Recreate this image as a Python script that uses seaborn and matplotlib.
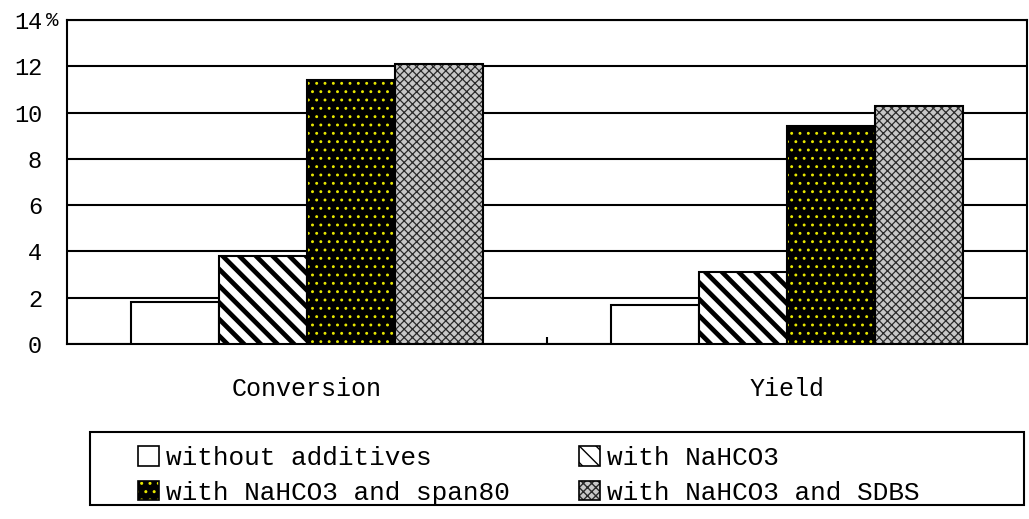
import matplotlib
matplotlib.use("Agg")
import matplotlib.pyplot as plt
import seaborn as sns
import pandas as pd
from matplotlib.patches import Patch, Rectangle
from matplotlib.legend_handler import HandlerTuple
from matplotlib.ticker import FixedLocator

categories = ["Conversion", "Yield"]
series = ["without additives", "with NaHCO3", "with NaHCO3 and span80", "with NaHCO3 and SDBS"]
without_additives = [1.8, 1.7]
with_nahco3 = [3.8, 3.1]
with_span80 = [11.4, 9.4]
with_sdbs = [12.1, 10.3]
yticks = [0, 2, 4, 6, 8, 10, 12, 14]
ytick_labels = ["0", "2", "4", "6", "8", "10", "12", "14"]

values = [without_additives, with_nahco3, with_span80, with_sdbs]
rows = []
for s, vals in zip(series, values):
    for c, v in zip(categories, vals):
        rows.append({"category": c, "series": s, "value": v})
df = pd.DataFrame(rows)

sns.set_style("white")
plt.rcParams["font.family"] = ["Liberation Mono", "DejaVu Sans Mono"]
plt.rcParams["text.color"] = "black"
plt.rcParams["xtick.color"] = "black"
plt.rcParams["ytick.color"] = "black"
plt.rcParams["xtick.labelcolor"] = "black"
plt.rcParams["ytick.labelcolor"] = "black"

# styles: (facecolor, hatch, hatchcolor, hatch linewidth)
styles = [
    ("white", None, "black", 1.0),
    ("white", "\\\\", "black", 3.4),
    ("black", "..", "#e8e800", 0.9),
    ("#c8c8c8", "xxxx", "#2a2a2a", 0.9),
]

fig = plt.figure(figsize=(10.29, 5.19), dpi=100)
ax = fig.add_axes([67 / 1029, 1 - 344 / 519, 960 / 1029, 324 / 519])

sns.barplot(data=df, x="category", y="value", hue="series", hue_order=series,
            order=categories, width=0.733, gap=0, palette=["white"] * 4,
            edgecolor="black", linewidth=1.5, legend=False, ax=ax, zorder=3)

bars_per_series = len(categories)
patches = [p for p in ax.patches]
has_hlw = hasattr(patches[0], "set_hatch_linewidth")
for i, p in enumerate(patches):
    si = i // bars_per_series
    fc, hatch, hc, hlw = styles[si]
    p.set_facecolor(fc)
    if hatch:
        p.set_hatch(hatch)
        p.set_edgecolor(hc)
        p.set_linewidth(0)
        if has_hlw:
            p.set_hatch_linewidth(hlw)
        ax.add_patch(Rectangle(p.get_xy(), p.get_width(), p.get_height(),
                               fill=False, edgecolor="black", linewidth=1.5, zorder=4))
if not has_hlw:
    plt.rcParams["hatch.linewidth"] = 1.8

ax.set_xlim(-0.5, 1.5)
ax.set_ylim(0, 14)
ax.set_yticks(yticks)
ax.set_yticklabels(ytick_labels)
ax.yaxis.grid(True, color="black", linewidth=1.5, zorder=0)
ax.set_axisbelow(True)
ax.set_xlabel("")
ax.set_ylabel("")
for s in ax.spines.values():
    s.set_color("black")
    s.set_linewidth(1.5)
ax.tick_params(axis="y", length=0, pad=18, labelsize=17, labelcolor="black")
ax.tick_params(axis="x", which="major", length=0, pad=24, labelsize=18, labelcolor="black")
ax.xaxis.set_minor_locator(FixedLocator([0.5]))
ax.tick_params(axis="x", which="minor", direction="in", length=5, width=1.5,
               bottom=True, color="black")

ax.annotate("%", xy=(0, 14), xycoords=("axes fraction", "data"),
            xytext=(-15, 0), textcoords="offset points", ha="left", va="center",
            fontsize=15, color="black")

# legend
handles = []
for fc, hatch, hc, hlw in styles:
    if hatch:
        h1 = Patch(facecolor=fc, hatch=hatch, edgecolor=hc, linewidth=0)
        if has_hlw:
            h1.set_hatch_linewidth(min(hlw, 2.2))
    else:
        h1 = Patch(facecolor=fc, linewidth=0)
    h2 = Patch(fill=False, edgecolor="black", linewidth=1.2)
    handles.append((h1, h2))
order = [0, 2, 1, 3]
fig.legend([handles[i] for i in order], [series[i] for i in order],
           handler_map={tuple: HandlerTuple(ndivide=1)},
           loc="upper left", bbox_to_anchor=(138 / 1029, 1 - 446 / 519),
           bbox_transform=fig.transFigure, ncol=2, frameon=False,
           fontsize=18.8, handlelength=0.8, handleheight=0.8, handletextpad=0.28,
           columnspacing=2.65, labelspacing=0.4, borderpad=0, borderaxespad=0,
           labelcolor="black")
fig.add_artist(Rectangle((90 / 1029, 14 / 519), 934 / 1029, 73 / 519,
                         transform=fig.transFigure, fill=False,
                         edgecolor="black", linewidth=1.5))

fig.savefig("out.png", dpi=100)
